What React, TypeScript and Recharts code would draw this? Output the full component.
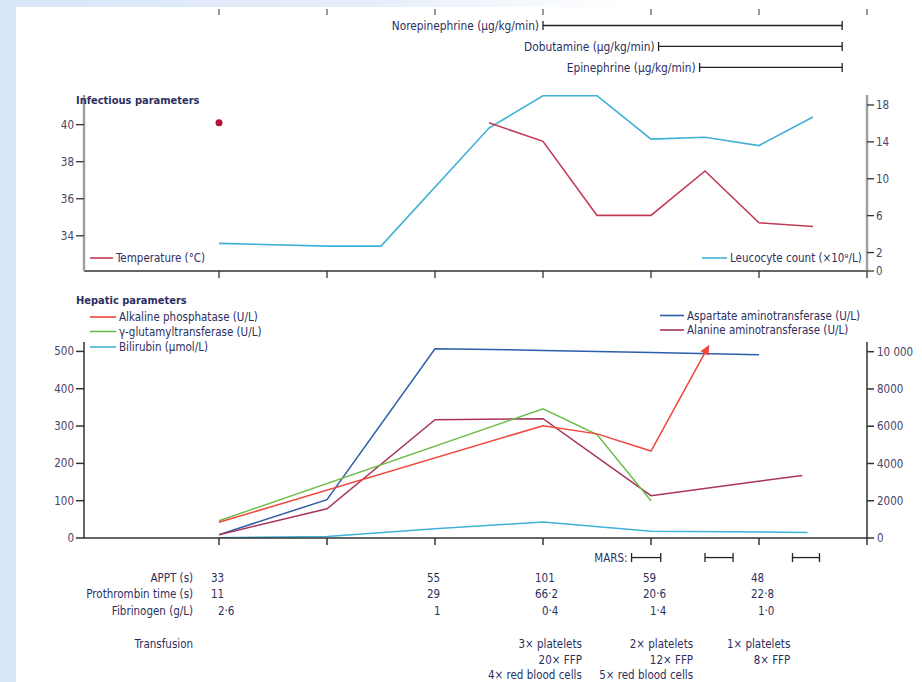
import React from "react";
import { LineChart, ComposedChart, Line, Scatter, XAxis, YAxis } from "recharts";

const FONT = '"Liberation Sans Narrow", "DejaVu Sans Condensed", "Roboto Condensed", "Liberation Sans", sans-serif';
const TEXT = "#2c2f5e";
const TICK = "#4b4468";
const AXIS = "#333";
const FS = 11.5;

// shared day axis
const dayTicks = [0, 1, 2, 3, 4, 5, 6];
const X_DOMAIN: [number, number] = [-1.25, 6];

// vasopressors
const drugNames = ["Norepinephrine (µg/kg/min)", "Dobutamine (µg/kg/min)", "Epinephrine (µg/kg/min)"];
const drugStart = [3.0, 4.07, 4.45];
const drugEnd = [5.77, 5.77, 5.77];

// infectious parameters
const tempDays = [0, 1, 2.5, 3, 3.5, 4, 4.5, 5, 5.5];
const tempValues = [40.1, null, 40.1, 39.1, 35.1, 35.1, 37.5, 34.7, 34.5];
const leucoDays = [0, 1, 1.5, 2.5, 3, 3.5, 4, 4.5, 5, 5.5];
const leucoValues = [3.0, 2.7, 2.7, 15.5, 19.0, 19.0, 14.3, 14.5, 13.6, 16.7];

// hepatic parameters (left axis)
const alkDays = [0, 3, 3.5, 4, 4.5];
const alkValues = [42, 301, 279, 233, 497];
const ggtDays = [0, 3, 3.5, 4];
const ggtValues = [46, 346, 277, 100];
const biliDays = [0, 1, 2, 3, 4, 5.45];
const biliValues = [1, 4, 25, 43, 18, 15];
// hepatic parameters (right axis)
const astDays = [0, 1, 2, 3, 4, 5];
const astValues = [180, 2060, 10160, 10070, 9960, 9840];
const altDays = [0, 1, 2, 3, 4, 5.4];
const altValues = [180, 1570, 6350, 6400, 2270, 3360];

// coagulation / transfusion table
const tableDays = [0, 2, 3, 4, 5];
const apptValues = ["33", "55", "101", "59", "48"];
const prothrombinValues = ["11", "29", "66·2", "20·6", "22·8"];
const fibrinogenValues = ["2·6", "1", "0·4", "1·4", "1·0"];
const rowLabels = ["APPT (s)", "Prothrombin time (s)", "Fibrinogen (g/L)", "Transfusion"];
const transfusionDays = [3.36, 4.39, 5.29];
const transfusions = [
  ["3× platelets", "20× FFP", "4× red blood cells"],
  ["2× platelets", "12× FFP", "5× red blood cells"],
  ["1× platelets", "8× FFP"],
];
const marsStart = [3.82, 4.5, 5.31];
const marsEnd = [4.09, 4.76, 5.56];

const C = {
  temp: "#c23a55",
  tempDot: "#b3103c",
  leuco: "#3fb0d6",
  alk: "#f0453c",
  ggt: "#6dbb48",
  bili: "#3fb3d9",
  ast: "#2d5da8",
  alt: "#a8345c",
};

const zip = (xs: number[], ys: (number | null)[]) => xs.map((x, i) => ({ x, v: ys[i] }));
const tempData = zip(tempDays, tempValues);
const leucoData = zip(leucoDays, leucoValues);

const TempDot = (props: any) => {
  const { cx, cy, index } = props;
  const cur = tempData[index]?.v;
  const prev = tempData[index - 1]?.v;
  const next = tempData[index + 1]?.v;
  if (cur == null || prev != null || next != null || cx == null) return <g key={`t${index}`} />;
  return <circle key={`t${index}`} cx={cx} cy={cy} r={3.5} fill={C.tempDot} />;
};

const ArrowTip = (props: any) => {
  const { cx, cy, index } = props;
  if (index !== alkDays.length - 1 || cx == null) return <g key={`a${index}`} />;
  return (
    <polygon
      key={`a${index}`}
      points="0,-9 -4.5,1 4.5,1"
      fill={C.alk}
      transform={`translate(${cx},${cy}) rotate(29)`}
    />
  );
};

const capDot = (label?: string) => (props: any) => {
  const { cx, cy, index } = props;
  return (
    <g key={`c${index}`}>
      <line x1={cx} x2={cx} y1={cy - 4.5} y2={cy + 4.5} stroke="#222" strokeWidth={1.3} />
      {label && index === 0 ? (
        <text x={cx - 4} y={cy} dy="0.35em" textAnchor="end" fontSize={11.8} fill={TEXT} fontFamily={FONT}>
          {label}
        </text>
      ) : null}
    </g>
  );
};

const hiddenLabel = () => "";

const DrugChart = () => (
  <LineChart width={922} height={85} margin={{ top: 0, right: 55, left: 84, bottom: 5 }}>
    <XAxis
      type="number"
      dataKey="x"
      orientation="top"
      domain={X_DOMAIN}
      ticks={dayTicks}
      axisLine={false}
      tickLine={{ stroke: AXIS }}
      tickSize={6}
      height={15}
      tickFormatter={hiddenLabel}
    />
    <YAxis hide type="number" domain={[-0.5, 2.6]} reversed />
    {drugNames.map((name, i) => (
      <Line
        key={name}
        data={[
          { x: drugStart[i], y: i },
          { x: drugEnd[i], y: i },
        ]}
        dataKey="y"
        stroke="#222"
        strokeWidth={1.3}
        dot={capDot(name)}
        activeDot={false}
        isAnimationActive={false}
      />
    ))}
  </LineChart>
);

const tickStyle = { fill: TICK, fontSize: 11.5, fontFamily: FONT };

const InfectiousChart = () => (
  <LineChart width={922} height={200} margin={{ top: 10, right: 17, left: 0, bottom: 0 }}>
    <XAxis
      type="number"
      dataKey="x"
      domain={X_DOMAIN}
      ticks={dayTicks}
      allowDataOverflow
      axisLine={{ stroke: AXIS, strokeWidth: 1.3 }}
      tickLine={{ stroke: AXIS, strokeWidth: 1.3 }}
      tickSize={7}
      height={14}
      tickFormatter={hiddenLabel}
    />
    <YAxis
      yAxisId="l"
      width={84}
      type="number"
      domain={[32.1, 41.6]}
      ticks={[34, 36, 38, 40]}
      allowDataOverflow
      axisLine={{ stroke: "#a0a0a0", strokeWidth: 2.5 }}
      tickLine={{ stroke: AXIS, strokeWidth: 1.3 }}
      tickSize={8}
      tick={tickStyle}
    />
    <YAxis
      yAxisId="r"
      orientation="right"
      width={38}
      type="number"
      domain={[0, 19.08]}
      ticks={[0, 2, 6, 10, 14, 18]}
      allowDataOverflow
      axisLine={{ stroke: "#a0a0a0", strokeWidth: 2.5 }}
      tickLine={{ stroke: AXIS, strokeWidth: 1.3 }}
      tickSize={7}
      tick={tickStyle}
    />
    <Line
      yAxisId="r"
      data={leucoData}
      dataKey="v"
      stroke={C.leuco}
      strokeWidth={1.6}
      dot={false}
      activeDot={false}
      isAnimationActive={false}
    />
    <Line
      yAxisId="l"
      data={tempData}
      dataKey="v"
      stroke={C.temp}
      strokeWidth={1.6}
      dot={TempDot}
      activeDot={false}
      isAnimationActive={false}
    />
  </LineChart>
);

const fmtRight = (v: number) => (v === 10000 ? "10\u00a0000" : String(v));

const HepaticChart = () => (
  <LineChart width={922} height={220} margin={{ top: 12, right: 17, left: 0, bottom: 0 }}>
    <XAxis
      type="number"
      dataKey="x"
      domain={X_DOMAIN}
      ticks={dayTicks}
      allowDataOverflow
      axisLine={{ stroke: AXIS, strokeWidth: 1.5 }}
      tickLine={{ stroke: AXIS, strokeWidth: 1.5 }}
      tickSize={7}
      height={12}
      tickFormatter={hiddenLabel}
    />
    <YAxis
      yAxisId="l"
      width={84}
      type="number"
      domain={[0, 525.2]}
      ticks={[0, 100, 200, 300, 400, 500]}
      allowDataOverflow
      axisLine={{ stroke: AXIS, strokeWidth: 1.5 }}
      tickLine={{ stroke: AXIS, strokeWidth: 1.5 }}
      tickSize={8}
      tick={tickStyle}
    />
    <YAxis
      yAxisId="r"
      orientation="right"
      width={38}
      type="number"
      domain={[0, 10520]}
      ticks={[0, 2000, 4000, 6000, 8000, 10000]}
      allowDataOverflow
      axisLine={{ stroke: AXIS, strokeWidth: 1.5 }}
      tickLine={{ stroke: AXIS, strokeWidth: 1.5 }}
      tickSize={7}
      tickMargin={3}
      tick={tickStyle}
      tickFormatter={fmtRight}
    />
    <Line yAxisId="l" data={zip(biliDays, biliValues)} dataKey="v" stroke={C.bili} strokeWidth={1.5} dot={false} activeDot={false} isAnimationActive={false} />
    <Line yAxisId="r" data={zip(astDays, astValues)} dataKey="v" stroke={C.ast} strokeWidth={1.5} dot={false} activeDot={false} isAnimationActive={false} />
    <Line yAxisId="r" data={zip(altDays, altValues)} dataKey="v" stroke={C.alt} strokeWidth={1.5} dot={false} activeDot={false} isAnimationActive={false} />
    <Line yAxisId="l" data={zip(ggtDays, ggtValues)} dataKey="v" stroke={C.ggt} strokeWidth={1.5} dot={false} activeDot={false} isAnimationActive={false} />
    <Line yAxisId="l" data={zip(alkDays, alkValues)} dataKey="v" stroke={C.alk} strokeWidth={1.5} dot={ArrowTip} activeDot={false} isAnimationActive={false} />
  </LineChart>
);

// row placement in the table strip (layout only)
const ROW = { mars: 0.6, appt: 1.9, pt: 2.9, fib: 3.95, tr: [6.0, 7.0, 7.95] };

type Cell = { x: number; y: number; text: string; anchor: string; dx: number };

const tableCells: Cell[] = [
  ...rowLabels.map((t, i) => ({
    x: -0.24,
    y: [ROW.appt, ROW.pt, ROW.fib, ROW.tr[0]][i],
    text: t,
    anchor: "end",
    dx: 0,
  })),
  ...apptValues.map((t, i) => ({ x: tableDays[i], y: ROW.appt, text: t, anchor: "start", dx: -8 })),
  ...prothrombinValues.map((t, i) => ({ x: tableDays[i], y: ROW.pt, text: t, anchor: "start", dx: -8 })),
  ...fibrinogenValues.map((t, i) => ({ x: tableDays[i], y: ROW.fib, text: t, anchor: "start", dx: -1 })),
  ...transfusions.flatMap((lines, c) =>
    lines.map((t, j) => ({ x: transfusionDays[c], y: ROW.tr[j], text: t, anchor: "end", dx: 0 }))
  ),
  { x: marsStart[0], y: ROW.mars, text: "MARS:", anchor: "end", dx: -4 },
];

const TextCell = (props: any) => {
  const p: Cell = props.payload ?? props;
  return (
    <text
      x={props.cx + p.dx}
      y={props.cy}
      dy="0.35em"
      textAnchor={p.anchor as any}
      fontSize={FS}
      fill={TEXT}
      fontFamily={FONT}
    >
      {p.text}
    </text>
  );
};

const TableChart = () => (
  <ComposedChart width={922} height={134} margin={{ top: 0, right: 55, left: 84, bottom: 0 }}>
    <XAxis hide type="number" dataKey="x" domain={X_DOMAIN} />
    <YAxis hide type="number" dataKey="y" domain={[0, 8.4]} reversed />
    {marsStart.map((s, i) => (
      <Line
        key={`mars${i}`}
        data={[
          { x: s, y: ROW.mars },
          { x: marsEnd[i], y: ROW.mars },
        ]}
        dataKey="y"
        stroke="#222"
        strokeWidth={1.3}
        dot={capDot()}
        activeDot={false}
        isAnimationActive={false}
      />
    ))}
    <Scatter data={tableCells} shape={TextCell} isAnimationActive={false} />
  </ComposedChart>
);

const LegendItem = ({ x, y, color, label, len = 26 }: { x: number; y: number; color: string; label: string; len?: number }) => (
  <g>
    <line x1={x} x2={x + len} y1={y} y2={y} stroke={color} strokeWidth={1.6} />
    <text x={x + len + 3} y={y} dy="0.35em" fontSize={FS} fill={TEXT} fontFamily={FONT}>
      {label}
    </text>
  </g>
);

const Overlay = () => (
  <svg width={922} height={682} style={{ position: "absolute", left: 0, top: 0, pointerEvents: "none" }}>
    <text x={76} y={100} dy="0.35em" fontSize={11} fontWeight="bold" fill={TEXT} fontFamily={FONT}>
      Infectious parameters
    </text>
    <text x={76} y={300} dy="0.35em" fontSize={11} fontWeight="bold" fill={TEXT} fontFamily={FONT}>
      Hepatic parameters
    </text>
    <LegendItem x={90} y={258} color={C.temp} label="Temperature (°C)" len={23} />
    <LegendItem x={702} y={258} color={C.leuco} label="Leucocyte count (×10⁹/L)" len={25} />
    <LegendItem x={90} y={317} color={C.alk} label="Alkaline phosphatase (U/L)" />
    <LegendItem x={90} y={331.5} color={C.ggt} label="γ-glutamyltransferase (U/L)" />
    <LegendItem x={90} y={347} color={C.bili} label="Bilirubin (µmol/L)" />
    <LegendItem x={660} y={315.5} color={C.ast} label="Aspartate aminotransferase (U/L)" len={24} />
    <LegendItem x={660} y={330} color={C.alt} label="Alanine aminotransferase (U/L)" len={24} />
  </svg>
);

const App = () => (
  <div
    style={{
      position: "absolute",
      left: 0,
      top: 0,
      width: 922,
      height: 682,
      background: "#fff",
      overflow: "hidden",
      fontFamily: FONT,
    }}
  >
    <div style={{ position: "absolute", left: 0, top: 0, width: 16, height: 682, background: "#d9e6f7" }} />
    <div
      style={{
        position: "absolute",
        left: 0,
        top: 0,
        width: 922,
        height: 7,
        background: "linear-gradient(to right, #d9e6f7 0%, #e6eefa 40%, #ffffff 68%)",
      }}
    />
    <div style={{ position: "absolute", left: 0, top: 0 }}>
      <DrugChart />
    </div>
    <div style={{ position: "absolute", left: 0, top: 85 }}>
      <InfectiousChart />
    </div>
    <div style={{ position: "absolute", left: 0, top: 330 }}>
      <HepaticChart />
    </div>
    <div style={{ position: "absolute", left: 0, top: 548 }}>
      <TableChart />
    </div>
    <Overlay />
  </div>
);

export default App;
